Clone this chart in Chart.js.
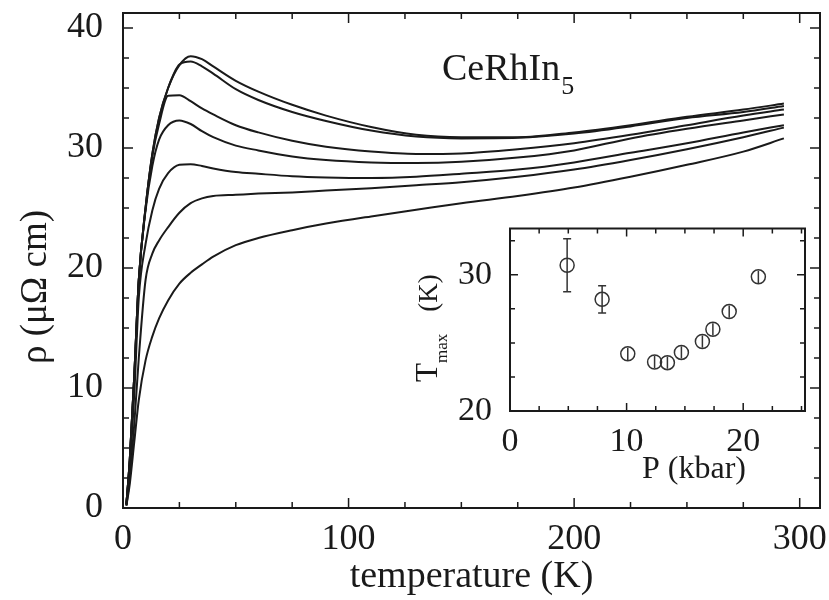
<!DOCTYPE html>
<html>
<head>
<meta charset="utf-8">
<script src="https://cdn.jsdelivr.net/npm/chart.js@4.4.0/dist/chart.umd.min.js"></script>
<style>
  html, body { margin: 0; padding: 0; background: #fff; }
  #wrap { position: relative; width: 829px; height: 600px; }
  #main { position: absolute; left: 0; top: 0; }
  #inset { position: absolute; left: 400px; top: 220px; }
</style>
</head>
<body>
<div id="wrap">
  <canvas id="main" width="829" height="600"></canvas>
  <canvas id="inset" width="420" height="270"></canvas>
</div>
<script>
const SERIF = "'Liberation Serif', 'Times New Roman', serif";
const INK = "#1a1a1a";

// main panel: resistivity vs temperature, one curve per pressure
const temps = [1.5, 3, 5, 7, 10, 13, 16, 20, 25, 30, 35, 40, 50, 60, 75, 90, 110, 130, 150, 175, 200, 225, 250, 275, 293];
const rho1 = [0.3, 4, 11, 19, 25, 29.5, 32.5, 35, 36.9, 37.65, 37.4, 36.8, 35.6, 34.7, 33.6, 32.7, 31.75, 31.1, 30.9, 30.9, 31.3, 31.9, 32.6, 33.2, 33.7];
const rho2 = [0.3, 4, 11, 19, 25, 29.5, 32.5, 35, 36.95, 37.2, 36.8, 36.2, 34.9, 34.0, 33.0, 32.25, 31.45, 30.95, 30.8, 30.85, 31.2, 31.8, 32.5, 33.0, 33.5];
const rho3 = [0.3, 4, 11, 19, 25, 29.3, 32.0, 34.35, 34.4, 33.9, 33.3, 32.8, 31.9, 31.3, 30.6, 30.1, 29.7, 29.5, 29.55, 29.9, 30.4, 31.1, 31.9, 32.7, 33.2];
const rho4 = [0.3, 4, 11, 19, 24.8, 28.5, 30.7, 31.9, 32.3, 32.0, 31.4, 30.9, 30.2, 29.8, 29.3, 29.0, 28.8, 28.75, 28.85, 29.2, 29.8, 30.8, 31.6, 32.3, 32.8];
const rho5 = [0.3, 3.5, 9.5, 17.5, 22, 24.8, 26.6, 27.9, 28.6, 28.65, 28.5, 28.3, 28.0, 27.85, 27.65, 27.55, 27.5, 27.6, 27.85, 28.2, 28.8, 29.6, 30.4, 31.3, 31.9];
const rho6 = [0.2, 2.5, 7, 12.5, 19.0, 21.2, 22.3, 23.4, 24.6, 25.4, 25.8, 26.0, 26.1, 26.2, 26.3, 26.45, 26.65, 26.9, 27.15, 27.6, 28.2, 29.0, 29.9, 30.9, 31.7];
const rho7 = [0.2, 2, 5.5, 9, 12.3, 14.3, 15.8, 17.3, 18.7, 19.6, 20.3, 20.95, 21.9, 22.5, 23.15, 23.7, 24.3, 24.85, 25.4, 26.0, 26.7, 27.6, 28.6, 29.7, 30.8];
const rhoCurves = [rho1, rho2, rho3, rho4, rho5, rho6, rho7];

const tempTickLabels = [0, 100, 200, 300];
const rhoTickLabels = [0, 10, 20, 30, 40];

// inset: temperature of the maximum vs pressure
const pressure = [4.9, 7.9, 10.1, 12.4, 13.5, 14.7, 16.5, 17.4, 18.8, 21.3];
const tmax = [30.7, 28.2, 24.2, 23.6, 23.55, 24.3, 25.1, 26.0, 27.3, 29.85];
const tmaxErr = [1.95, 1.0, 0.45, 0.45, 0.45, 0.45, 0.45, 0.45, 0.45, 0.45];
const pTickLabels = [0, 10, 20];
const tTickLabels = [20, 30];

// inward ticks on all four sides plus the frame
const frameTicks = {
  id: 'frameTicks',
  afterDraw(chart, args, o) {
    const { ctx, chartArea: a } = chart;
    const x = chart.scales.x, y = chart.scales.y;
    ctx.save();
    ctx.strokeStyle = INK;
    ctx.lineWidth = 1.5;
    ctx.beginPath();
    x.ticks.forEach(t => {
      const p = x.getPixelForValue(t.value);
      const len = o.xMajor.includes(t.value) ? o.major : o.minor;
      ctx.moveTo(p, a.bottom); ctx.lineTo(p, a.bottom - len);
      ctx.moveTo(p, a.top); ctx.lineTo(p, a.top + len);
    });
    y.ticks.forEach(t => {
      const p = y.getPixelForValue(t.value);
      const len = o.yMajor.includes(t.value) ? o.major : o.minor;
      ctx.moveTo(a.left, p); ctx.lineTo(a.left + len, p);
      ctx.moveTo(a.right, p); ctx.lineTo(a.right - len, p);
    });
    ctx.stroke();
    ctx.lineWidth = 2;
    ctx.strokeRect(a.left, a.top, a.right - a.left, a.bottom - a.top);
    ctx.restore();
  }
};

const mainText = {
  id: 'mainText',
  afterDraw(chart) {
    const ctx = chart.ctx;
    ctx.save();
    ctx.fillStyle = INK;
    ctx.textBaseline = 'alphabetic';
    ctx.translate(46, 287);
    ctx.rotate(-Math.PI / 2);
    ctx.textAlign = 'center';
    ctx.font = `37px ${SERIF}`;
    ctx.fillText('ρ (μΩ cm)', 0, 0);
    ctx.restore();

    ctx.save();
    ctx.fillStyle = INK;
    ctx.textAlign = 'left';
    ctx.textBaseline = 'alphabetic';
    ctx.font = `38px ${SERIF}`;
    ctx.fillText('CeRhIn', 442, 80);
    const w = ctx.measureText('CeRhIn').width;
    ctx.font = `26px ${SERIF}`;
    ctx.fillText('5', 442 + w + 1, 94);
    ctx.restore();
  }
};

const insetText = {
  id: 'insetText',
  beforeDraw(chart) {
    const { ctx, chartArea: a } = chart;
    ctx.save();
    ctx.fillStyle = '#fff';
    ctx.fillRect(a.left, a.top, a.right - a.left, a.bottom - a.top);
    ctx.restore();
  },
  afterDraw(chart) {
    const ctx = chart.ctx;
    ctx.save();
    ctx.fillStyle = INK;
    ctx.textBaseline = 'alphabetic';
    ctx.textAlign = 'center';
    ctx.font = `32px ${SERIF}`;
    ctx.fillText('P (kbar)', 294, 258);
    ctx.restore();

    ctx.save();
    ctx.fillStyle = INK;
    ctx.textBaseline = 'alphabetic';
    ctx.textAlign = 'left';
    ctx.translate(37, 162);
    ctx.rotate(-Math.PI / 2);
    ctx.font = `31px ${SERIF}`;
    ctx.fillText('T', 0, 0);
    let off = ctx.measureText('T').width;
    ctx.font = `17px ${SERIF}`;
    ctx.fillText('max', off, 10);
    off += ctx.measureText('max').width + 22;
    ctx.font = `27px ${SERIF}`;
    ctx.fillText('(K)', off, 0);
    ctx.restore();
  }
};

const errorBars = {
  id: 'errorBars',
  afterDatasetsDraw(chart) {
    const { ctx } = chart;
    const x = chart.scales.x, y = chart.scales.y;
    ctx.save();
    ctx.strokeStyle = '#333';
    ctx.lineWidth = 1.5;
    pressure.forEach((p, i) => {
      const px = x.getPixelForValue(p);
      const top = y.getPixelForValue(tmax[i] + tmaxErr[i]);
      const bot = y.getPixelForValue(tmax[i] - tmaxErr[i]);
      ctx.beginPath();
      ctx.moveTo(px, top); ctx.lineTo(px, bot);
      if (bot - top > 18) {
        ctx.moveTo(px - 4, top); ctx.lineTo(px + 4, top);
        ctx.moveTo(px - 4, bot); ctx.lineTo(px + 4, bot);
      }
      ctx.stroke();
    });
    ctx.restore();
  }
};

function tickFont(size) {
  return { family: SERIF, size: size };
}

new Chart(document.getElementById('main').getContext('2d'), {
  type: 'line',
  data: {
    datasets: rhoCurves.map(c => ({
      data: temps.map((t, i) => ({ x: t, y: c[i] })),
      borderColor: INK,
      borderWidth: 2,
      pointRadius: 0,
      fill: false,
      cubicInterpolationMode: 'monotone'
    }))
  },
  options: {
    responsive: false,
    animation: false,
    devicePixelRatio: 1,
    layout: { padding: { top: 13, right: 9, left: 0, bottom: 0 } },
    plugins: {
      legend: { display: false },
      tooltip: { enabled: false },
      frameTicks: { xMajor: tempTickLabels, yMajor: rhoTickLabels, major: 10, minor: 6 }
    },
    scales: {
      x: {
        type: 'linear', min: 0, max: 309,
        afterFit: s => { s.height = 92; s.paddingLeft = 0; s.paddingRight = 0; },
        grid: { display: false }, border: { display: false },
        ticks: {
          stepSize: 25, includeBounds: false, autoSkip: false, maxRotation: 0,
          padding: 2, color: INK, font: tickFont(36),
          callback: v => tempTickLabels.includes(v) ? String(v) : ''
        },
        title: { display: true, text: 'temperature (K)', color: INK, font: tickFont(38), padding: 0 }
      },
      y: {
        type: 'linear', min: 0, max: 41.25,
        afterFit: s => { s.width = 123; s.paddingTop = 0; s.paddingBottom = 0; },
        grid: { display: false }, border: { display: false },
        ticks: {
          stepSize: 2.5, includeBounds: false, autoSkip: false,
          padding: 12, color: INK, font: tickFont(36),
          callback: v => rhoTickLabels.includes(v) ? String(v) : ''
        }
      }
    }
  },
  plugins: [frameTicks, mainText]
});

new Chart(document.getElementById('inset').getContext('2d'), {
  type: 'scatter',
  data: {
    datasets: [{
      data: pressure.map((p, i) => ({ x: p, y: tmax[i] })),
      pointRadius: 7,
      pointBorderWidth: 1.5,
      pointBorderColor: '#333',
      pointBackgroundColor: 'rgba(0,0,0,0)',
      showLine: false
    }]
  },
  options: {
    responsive: false,
    animation: false,
    devicePixelRatio: 1,
    layout: { padding: { top: 8, right: 15, left: 0, bottom: 0 } },
    plugins: {
      legend: { display: false },
      tooltip: { enabled: false },
      frameTicks: { xMajor: pTickLabels, yMajor: tTickLabels, major: 8, minor: 5 }
    },
    scales: {
      x: {
        type: 'linear', min: 0, max: 25.3,
        afterFit: s => { s.height = 79; s.paddingLeft = 0; s.paddingRight = 0; },
        grid: { display: false }, border: { display: false },
        ticks: {
          stepSize: 2.5, includeBounds: false, autoSkip: false, maxRotation: 0,
          padding: 3, color: INK, font: tickFont(34),
          callback: v => pTickLabels.includes(v) ? String(v) : ''
        }
      },
      y: {
        type: 'linear', min: 20, max: 33.4,
        afterFit: s => { s.width = 110; s.paddingTop = 0; s.paddingBottom = 0; },
        grid: { display: false }, border: { display: false },
        ticks: {
          stepSize: 2.5, includeBounds: false, autoSkip: false,
          padding: 10, color: INK, font: tickFont(34),
          callback: v => tTickLabels.includes(v) ? String(v) : ''
        }
      }
    }
  },
  plugins: [insetText, errorBars, frameTicks]
});
</script>
</body>
</html>
